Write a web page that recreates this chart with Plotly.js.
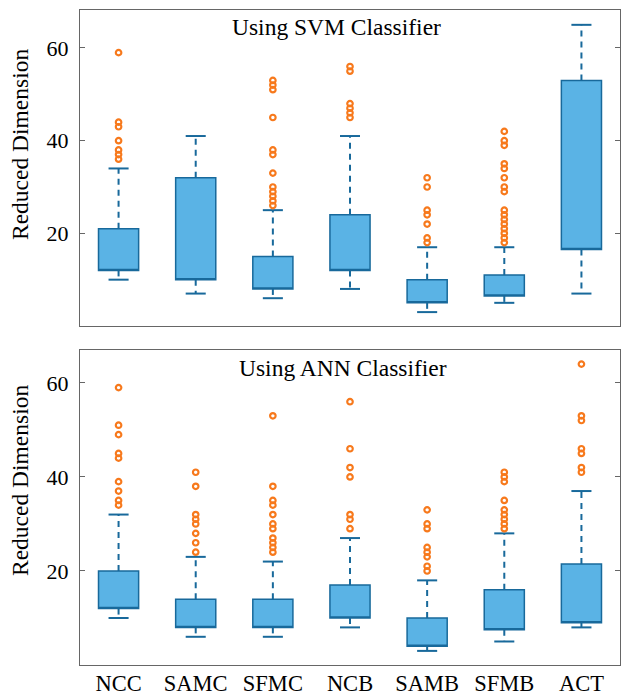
<!DOCTYPE html>
<html>
<head>
<meta charset="utf-8">
<script src="https://cdn.plot.ly/plotly-3.0.1.min.js"></script>
<style>html,body{margin:0;padding:0;background:#fff;}#chart{width:623px;height:697px;}</style>
</head>
<body>
<div id="chart"></div>
<script>
// ---- Data ----
const categories = ['NCC', 'SAMC', 'SFMC', 'NCB', 'SAMB', 'SFMB', 'ACT'];

// SVM classifier
const svmLower  = [10, 7, 6, 8, 3, 5, 7];
const svmQ1     = [12, 10, 8, 12, 5, 6.5, 16.5];
const svmMedian = [12, 10, 8, 12, 5, 6.5, 16.5];
const svmQ3     = [21, 32, 15, 24, 10, 11, 53];
const svmUpper  = [34, 41, 25, 41, 17, 17, 65];
const svmOutliers = [
  [59, 44, 43, 40, 38, 37, 36],
  [],
  [53, 52, 51, 45, 38, 37, 33, 30, 29, 28, 27, 26],
  [56, 55, 48, 47, 46, 45],
  [32, 30, 25, 24, 22, 19, 18],
  [42, 40, 39, 35, 34, 32, 30, 29, 25, 24, 23, 22, 21, 20, 19, 18],
  []
];

// ANN classifier
const annLower  = [10, 6, 6, 8, 3, 5, 8];
const annQ1     = [12, 8, 8, 10, 4, 7.5, 9];
const annMedian = [12, 8, 8, 10, 4, 7.5, 9];
const annQ3     = [20, 14, 14, 17, 10, 16, 21.5];
const annUpper  = [32, 23, 22, 27, 18, 28, 37];
const annOutliers = [
  [59, 51, 49, 45, 44, 39, 37, 35, 34],
  [41, 38, 32, 31, 30, 28, 26, 24],
  [53, 38, 35, 34, 32, 30, 29, 27, 26, 25, 24],
  [56, 46, 42, 40, 32, 31, 29],
  [33, 30, 29, 25, 24, 23, 21, 20],
  [41, 40, 39, 35, 33, 32, 31, 30, 29],
  [64, 53, 52, 46, 45, 42, 41]
];

const panelTitles = ['Using SVM Classifier', 'Using ANN Classifier'];
const yTitle = 'Reduced Dimension';
const yTicks = [20, 40, 60];

// ---- Styles ----
const FONT = 'Liberation Serif, Times New Roman, Times, serif';
const BOX_FILL = '#5AB3E5';
const BOX_EDGE = '#18699B';
const OUT_COLOR = '#F7791C';
const AXIS_COLOR = '#666666';
const BOX_W = 0.52;
const CAP_HALF = 0.13;

const pos = categories.map((c, i) => i);

function panelTraces(lower, q1, med, q3, upper, outliers, xa, ya) {
  const traces = [];
  // whiskers (dashed)
  const wx = [], wy = [];
  pos.forEach((p, i) => {
    wx.push(p, p, null, p, p, null);
    wy.push(q3[i], upper[i], null, q1[i], lower[i], null);
  });
  traces.push({type: 'scatter', mode: 'lines', x: wx, y: wy, xaxis: xa, yaxis: ya,
    line: {color: BOX_EDGE, width: 2, dash: '6px,5px'}, hoverinfo: 'skip', showlegend: false});
  // caps
  const cx = [], cy = [];
  pos.forEach((p, i) => {
    cx.push(p - CAP_HALF, p + CAP_HALF, null, p - CAP_HALF, p + CAP_HALF, null);
    cy.push(upper[i], upper[i], null, lower[i], lower[i], null);
  });
  traces.push({type: 'scatter', mode: 'lines', x: cx, y: cy, xaxis: xa, yaxis: ya,
    line: {color: BOX_EDGE, width: 2}, hoverinfo: 'skip', showlegend: false});
  // boxes
  traces.push({type: 'box', x: pos, q1: q1, median: med, q3: q3,
    lowerfence: q1, upperfence: q3, width: BOX_W, whiskerwidth: 0,
    fillcolor: BOX_FILL, line: {color: BOX_EDGE, width: 1.5},
    boxpoints: false, xaxis: xa, yaxis: ya, showlegend: false});
  // outliers
  const ox = [], oy = [];
  outliers.forEach((arr, i) => arr.forEach(v => { ox.push(pos[i]); oy.push(v); }));
  traces.push({type: 'scatter', mode: 'markers', x: ox, y: oy, xaxis: xa, yaxis: ya,
    marker: {symbol: 'circle-open', size: 5.5, color: OUT_COLOR, line: {width: 2.2, color: OUT_COLOR}},
    showlegend: false});
  return traces;
}

const data = [
  ...panelTraces(svmLower, svmQ1, svmMedian, svmQ3, svmUpper, svmOutliers, 'x', 'y'),
  ...panelTraces(annLower, annQ1, annMedian, annQ3, annUpper, annOutliers, 'x2', 'y2')
];

const W = 623, H = 697;
const M = {l: 80, r: 3, t: 10, b: 32};
const plotH = H - M.t - M.b;
const plotW = W - M.l - M.r;
const pyToPaper = py => (H - M.b - py) / plotH;
const pxToPaper = px => (px - M.l) / plotW;

const xBase = {
  range: [-0.5, 6.5], tickvals: pos, ticktext: categories,
  showline: true, mirror: true, linecolor: AXIS_COLOR, linewidth: 1,
  ticks: '', showgrid: false, zeroline: false, ticklabelstandoff: -2,
  tickfont: {family: FONT, size: 22.5, color: '#000'}
};
const yBase = {
  tickvals: yTicks, ticks: 'inside', ticklen: 5, tickcolor: AXIS_COLOR,
  showline: true, mirror: 'ticks', linecolor: AXIS_COLOR, linewidth: 1,
  showgrid: false, zeroline: false, ticklabelstandoff: 6,
  tickfont: {family: FONT, size: 22, color: '#000'}
};

const layout = {
  width: W, height: H, margin: M,
  paper_bgcolor: '#fff', plot_bgcolor: '#fff',
  font: {family: FONT, color: '#000'},
  showlegend: false,
  xaxis: Object.assign({}, xBase, {anchor: 'y', domain: [0, 1], showticklabels: false}),
  yaxis: Object.assign({}, yBase, {anchor: 'x', domain: [pyToPaper(326), 1], range: [0, 68.2]}),
  xaxis2: Object.assign({}, xBase, {anchor: 'y2', domain: [0, 1]}),
  yaxis2: Object.assign({}, yBase, {anchor: 'x2', domain: [0, pyToPaper(350)], range: [0, 67]}),
  annotations: [
    {text: panelTitles[0], xref: 'paper', yref: 'paper', x: pxToPaper(336), y: pyToPaper(27),
     xanchor: 'center', yanchor: 'middle', showarrow: false, font: {family: FONT, size: 23.5, color: '#000'}},
    {text: panelTitles[1], xref: 'paper', yref: 'paper', x: pxToPaper(343), y: pyToPaper(368),
     xanchor: 'center', yanchor: 'middle', showarrow: false, font: {family: FONT, size: 23.5, color: '#000'}},
    {text: yTitle, xref: 'paper', yref: 'paper', x: pxToPaper(20), y: pyToPaper(145), textangle: -90,
     xanchor: 'center', yanchor: 'middle', showarrow: false, font: {family: FONT, size: 23.5, color: '#000'}},
    {text: yTitle, xref: 'paper', yref: 'paper', x: pxToPaper(20), y: pyToPaper(481), textangle: -90,
     xanchor: 'center', yanchor: 'middle', showarrow: false, font: {family: FONT, size: 23.5, color: '#000'}}
  ]
};

Plotly.newPlot('chart', data, layout, {displayModeBar: false, staticPlot: true});
</script>
</body>
</html>
